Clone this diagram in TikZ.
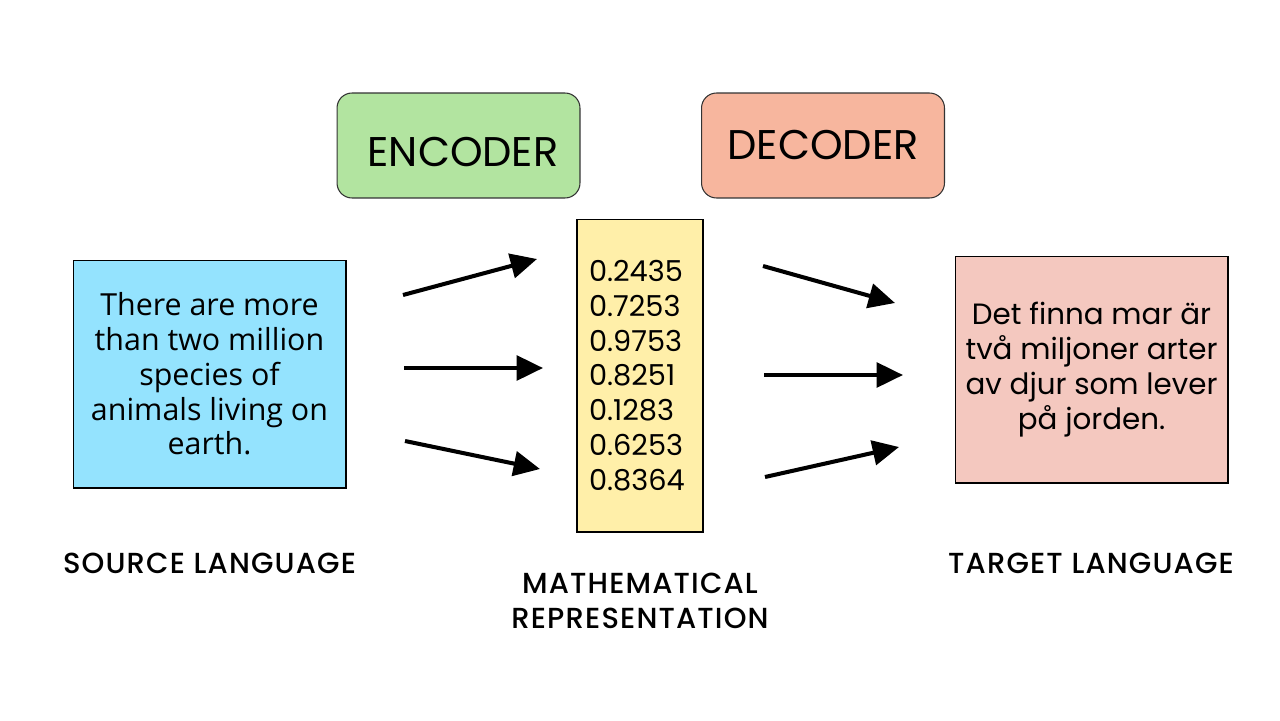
\documentclass[tikz,border=0pt]{standalone}
\usepackage{fontspec}
\setmainfont{Poppins}
\newfontfamily\srcfont{Open Sans}
\newfontfamily\capfont{Poppins Medium}[LetterSpace=4]
\usepackage{tikz}
\usetikzlibrary{arrows.meta, positioning}
\definecolor{encgreen}{RGB}{178,228,160}
\definecolor{decsalmon}{RGB}{247,182,158}
\definecolor{srcblue}{RGB}{148,227,254}
\definecolor{vecyellow}{RGB}{255,239,169}
\definecolor{tgtpink}{RGB}{244,200,191}
\tikzset{
  blockbox/.style={draw=black!80, line width=0.6pt, rounded corners=0.3cm,
    minimum width=4.86cm, minimum height=2.1cm, inner sep=0pt},
  blockhead/.style={font=\fontsize{23.6}{26}\selectfont, inner sep=0pt},
  textbox/.style={draw=black, line width=0.6pt, minimum width=5.46cm,
    minimum height=4.56cm, align=center, inner sep=0pt},
  vecbox/.style={draw=black, line width=0.6pt, fill=vecyellow, text width=2.04cm,
    inner xsep=0.24cm, minimum height=6.26cm, align=left,
    font=\fontsize{16.4}{19.8}\selectfont},
  caption/.style={font=\capfont\fontsize{16.5}{20.3}\selectfont, align=center, inner sep=0pt},
  flow/.style={-{Triangle[length=15pt, width=14pt]}, line width=2.3pt},
}

\begin{document}
\begin{tikzpicture}[x=0.02cm, y=-0.02cm]
  \useasboundingbox (0,0) rectangle (1280,720);
  % encoder / decoder headers
  \node[blockbox, fill=encgreen] (enc) at (458.5,145.5) {};
  \node[blockhead] (enctxt) at (463,152) {ENCODER};
  \node[blockbox, fill=decsalmon, blockhead] (dec) at (823,145.5) {DECODER};
  % the three boxes
  \node[textbox, fill=srcblue, font=\srcfont\fontsize{17.3}{19.8}\selectfont] (src) at (209.5,374)
    {There are more\\than two million\\species of\\animals living on\\earth.};
  \node[vecbox] (vec) at (640,375.5)
    {0.2435\\0.7253\\0.9753\\0.8251\\0.1283\\0.6253\\0.8364};
  \node[textbox, fill=tgtpink, font=\fontsize{16.7}{19.8}\selectfont, minimum height=4.54cm] (tgt) at (1091.5,369.5)
    {Det finna mar är\\två miljoner arter\\av djur som lever\\på jorden.};
  % captions
  \node[caption] (srccap) at (209.5,563) {SOURCE LANGUAGE};
  \node[caption] (veccap) at (640,601) {MATHEMATICAL\\REPRESENTATION};
  \node[caption] (tgtcap) at (1091,563) {TARGET LANGUAGE};
  % arrow ends
  \coordinate (a1) at (403,295); \coordinate (b1) at (537,259);
  \coordinate (a2) at (404,368); \coordinate (b2) at (543,368);
  \coordinate (a3) at (405,441); \coordinate (b3) at (540,469);
  \coordinate (c1) at (763,266); \coordinate (d1) at (895,303);
  \coordinate (c2) at (764,375); \coordinate (d2) at (903,375);
  \coordinate (c3) at (765,477); \coordinate (d3) at (899,447);
  \foreach \i in {1,2,3} {
    \draw[flow] (a\i) -- (b\i);
    \draw[flow] (c\i) -- (d\i);
  }
\end{tikzpicture}
\end{document}
